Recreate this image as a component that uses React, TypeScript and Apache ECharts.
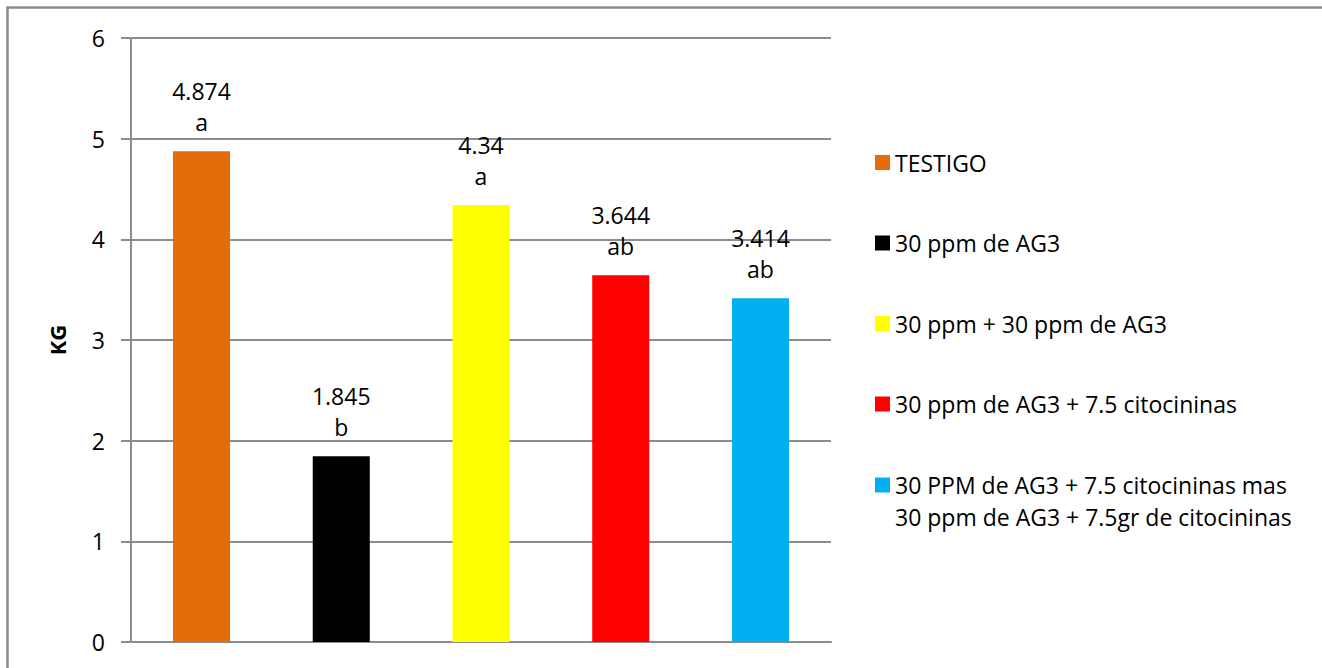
import React, { useEffect, useRef } from "react";
import * as echarts from "echarts";

const seriesNames = [
  "TESTIGO",
  "30 ppm de AG3",
  "30 ppm + 30 ppm de AG3",
  "30 ppm de AG3 + 7.5 citocininas",
  "30 PPM de AG3 + 7.5 citocininas mas\n30 ppm de AG3 + 7.5gr de citocininas",
];
const values = [4.874, 1.845, 4.34, 3.644, 3.414];
const letters = ["a", "b", "a", "ab", "ab"];
const colors = ["#E46C0A", "#000000", "#FFFF00", "#FF0000", "#00B0F0"];
const categories = [""];
const yTicks = { min: 0, max: 6, interval: 1 };
const yAxisTitle = "KG";

const FONT = "'Open Sans', sans-serif";
const FS = 23;

export default function App() {
  const ref = useRef<HTMLDivElement>(null);
  useEffect(() => {
    if (!ref.current) return;
    const chart = echarts.init(ref.current, undefined, { renderer: "svg" });
    const series = seriesNames.map((name, i) => ({
      type: "bar",
      name,
      data: [values[i]],
      itemStyle: { color: colors[i] },
      barGap: "145%",
      barCategoryGap: "12%",
      label: {
        show: true,
        position: "top",
        distance: 14,
        formatter: () => `${values[i]}\n${letters[i]}`,
        fontFamily: FONT,
        fontSize: FS,
        lineHeight: 31,
        color: "#000",
        align: "center",
      },
    }));
    chart.setOption({
      animation: false,
      backgroundColor: "#fff",
      textStyle: { fontFamily: FONT },
      grid: { left: 131, right: 491, top: 38, bottom: 26, containLabel: false },
      graphic: [
        {
          type: "rect",
          shape: { x: 7.5, y: 7.5, width: 1400, height: 800 },
          style: { fill: "none", stroke: "#8a8a8a", lineWidth: 2.5 },
          silent: true,
        },
      ],
      legend: [
        {
          orient: "vertical",
          left: 875,
          top: 147,
          padding: 0,
          itemWidth: 15,
          itemHeight: 15,
          itemGap: 49.5,
          icon: "rect",
          data: seriesNames.slice(0, 4),
          textStyle: { fontFamily: FONT, fontSize: FS, lineHeight: 31, color: "#000" },
        },
        {
          orient: "vertical",
          left: 875,
          top: 437,
          padding: 0,
          itemWidth: 15,
          itemHeight: 15,
          icon: "rect",
          data: seriesNames.slice(4),
          formatter: (name: string) => "\n" + name,
          textStyle: { fontFamily: FONT, fontSize: FS, lineHeight: 32, color: "#000" },
        },
      ],
      xAxis: {
        type: "category",
        data: categories,
        axisLine: { show: true, lineStyle: { color: "#8c8c8c", width: 2 } },
        axisTick: { show: false },
        axisLabel: { show: false },
      },
      yAxis: {
        type: "value",
        min: yTicks.min,
        max: yTicks.max,
        interval: yTicks.interval,
        name: yAxisTitle,
        nameLocation: "middle",
        nameRotate: 90,
        nameGap: 63,
        nameTextStyle: { fontFamily: FONT, fontSize: 22, fontWeight: "bold", color: "#000" },
        axisLine: { show: true, lineStyle: { color: "#8c8c8c", width: 2 } },
        axisTick: { show: true, length: 10, lineStyle: { color: "#8c8c8c", width: 2 } },
        axisLabel: { margin: 26, fontFamily: FONT, fontSize: FS, color: "#000" },
        splitLine: { show: true, lineStyle: { color: "#8c8c8c", width: 2 } },
      },
      series,
    });
    return () => chart.dispose();
  }, []);
  return (
    <div
      ref={ref}
      style={{ position: "absolute", left: 0, top: 0, width: 1322, height: 668 }}
    />
  );
}
